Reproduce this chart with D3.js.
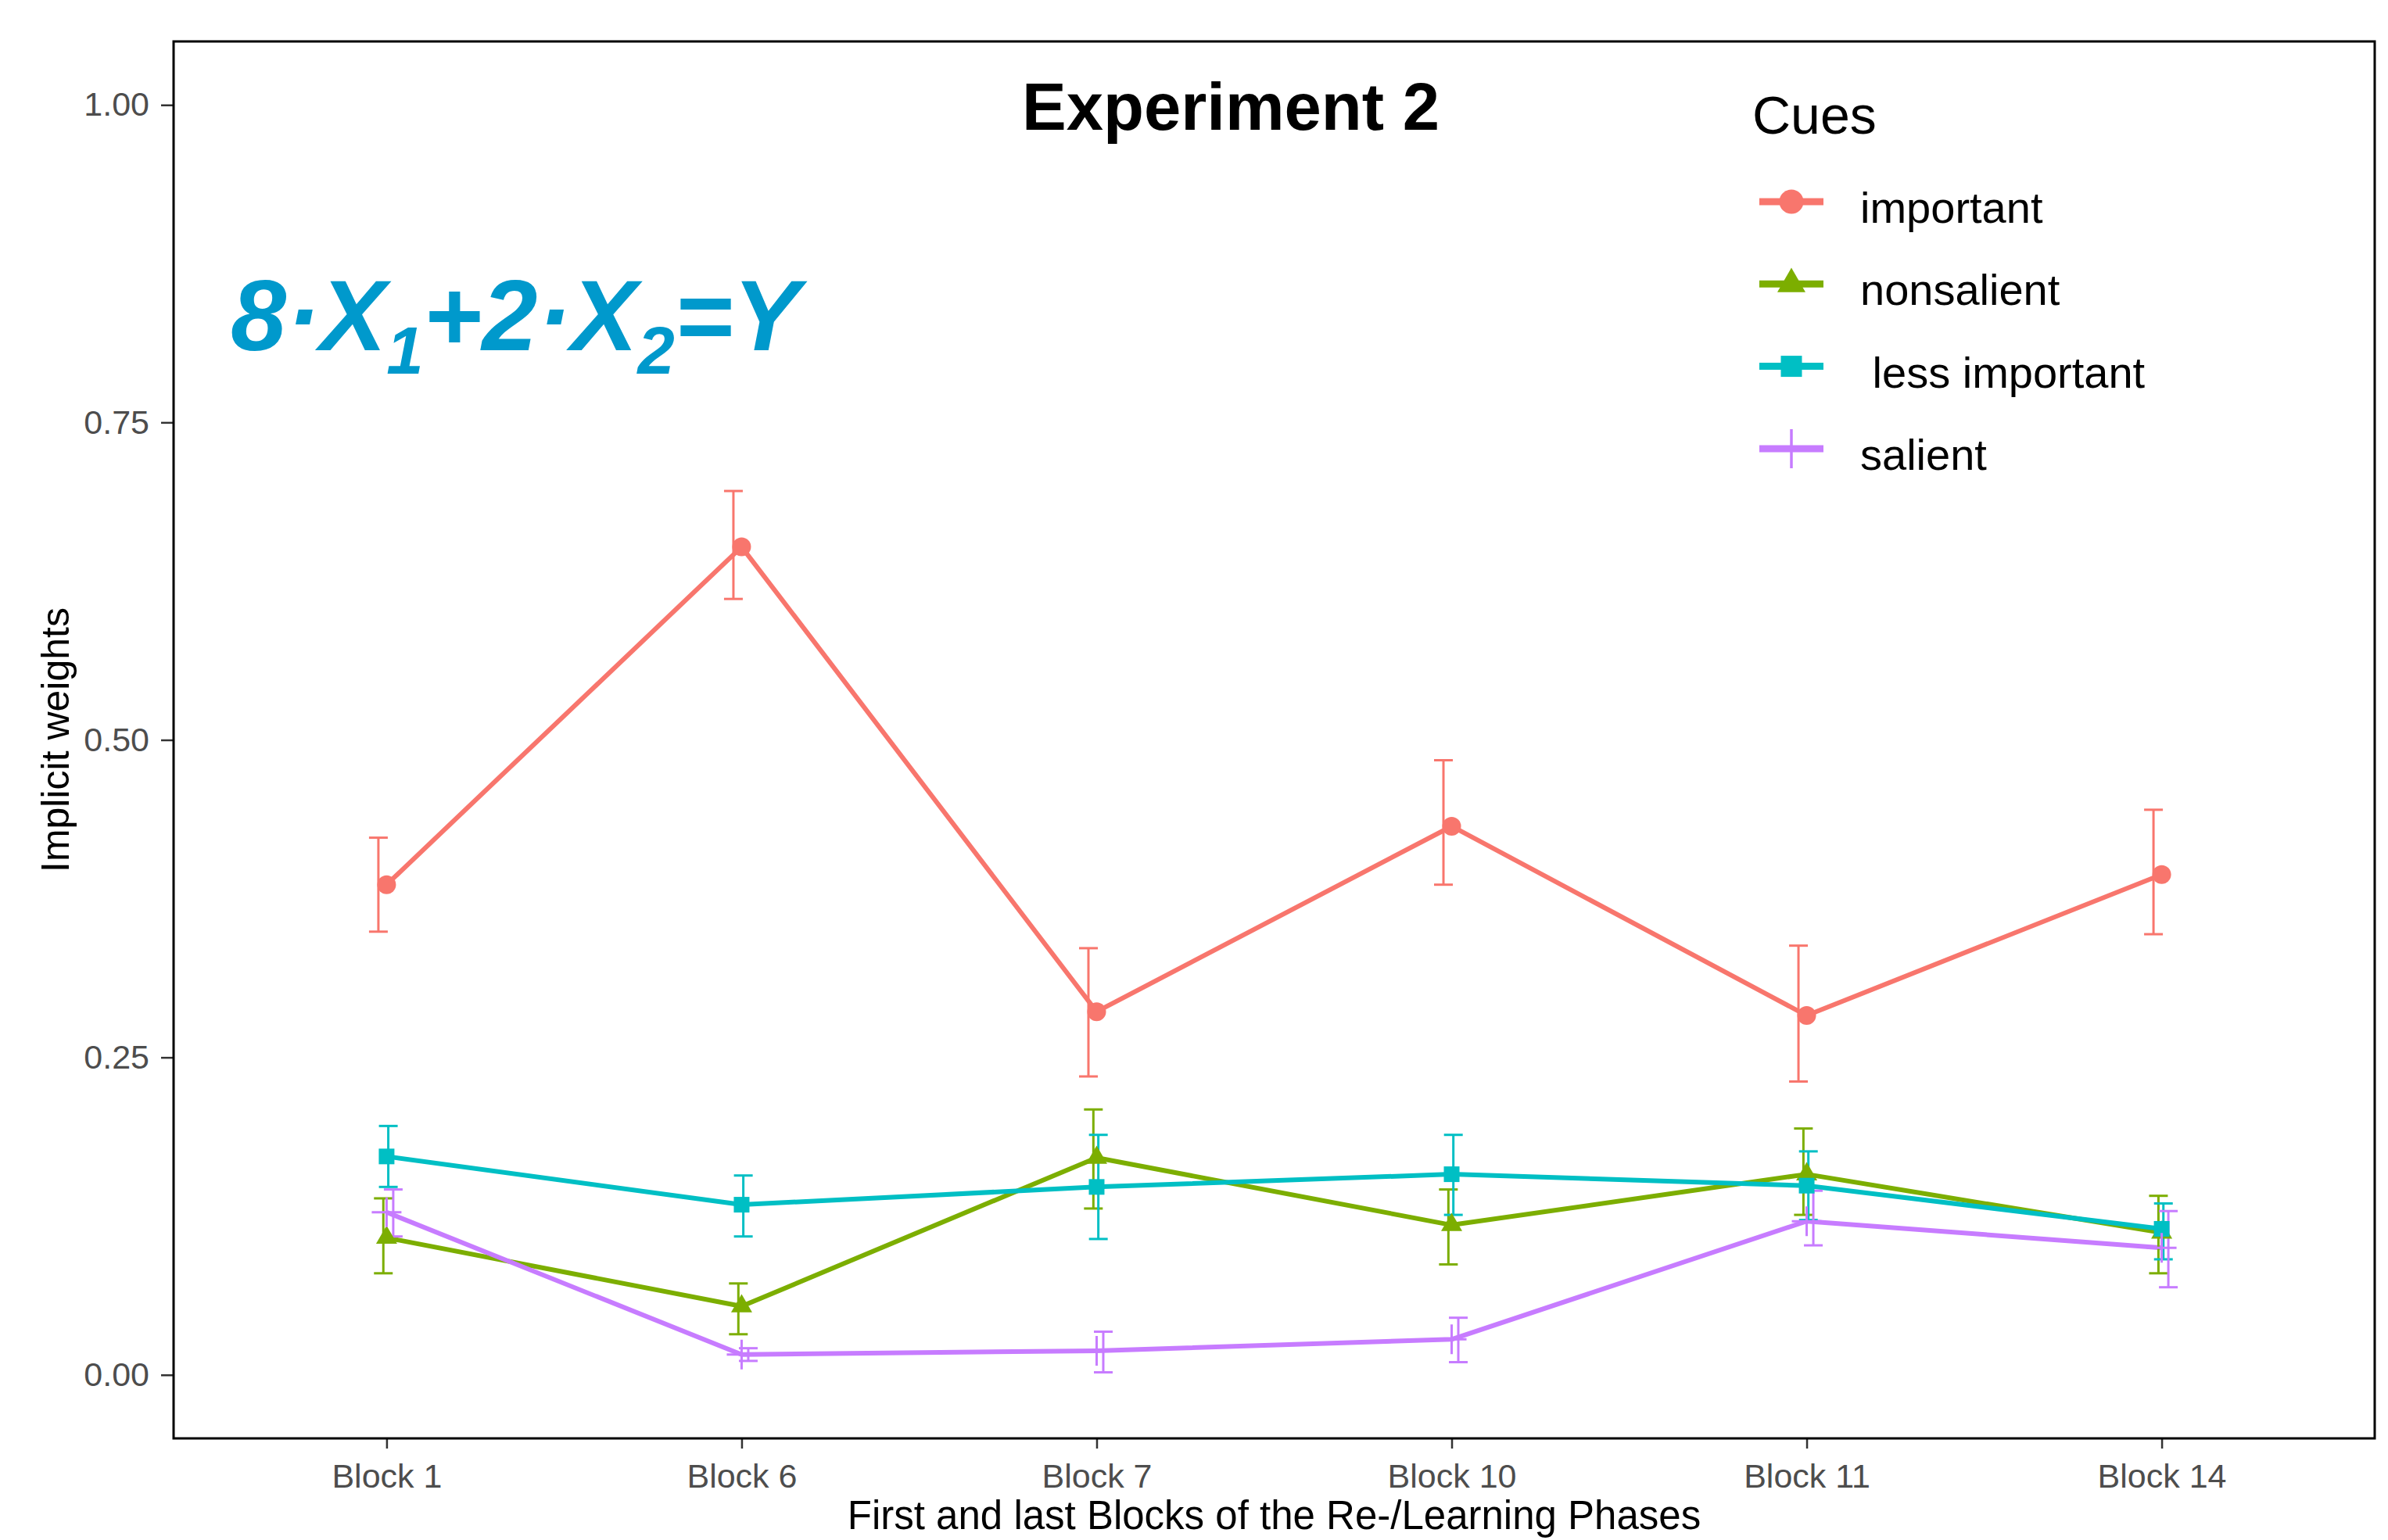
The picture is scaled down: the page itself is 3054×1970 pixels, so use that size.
<!DOCTYPE html>
<html>
<head>
<meta charset="utf-8">
<script src="https://cdn.jsdelivr.net/npm/d3@7"></script>
<style>
  body { margin: 0; background: #fff; }
  text { font-family: "Liberation Sans", Arial, sans-serif; }
</style>
</head>
<body>
<div id="chart"></div>
<script>
// categories
const blocks = ["Block 1", "Block 6", "Block 7", "Block 10", "Block 11", "Block 14"];
const cues = ["important", "nonsalient", " less important", "salient"];

// mean implicit weights per cue
const importantMean = [0.386, 0.652, 0.286, 0.432, 0.283, 0.394];
const nonsalientMean = [0.108, 0.054, 0.171, 0.118, 0.158, 0.112];
const lessImportantMean = [0.172, 0.134, 0.148, 0.158, 0.149, 0.115];
const salientMean = [0.128, 0.016, 0.019, 0.028, 0.121, 0.100];

// error bar lower / upper ends
const importantLow = [0.349, 0.611, 0.235, 0.386, 0.231, 0.347];
const importantHigh = [0.423, 0.696, 0.336, 0.484, 0.338, 0.445];
const nonsalientLow = [0.080, 0.032, 0.131, 0.087, 0.126, 0.080];
const nonsalientHigh = [0.139, 0.072, 0.209, 0.146, 0.194, 0.141];
const lessImportantLow = [0.148, 0.109, 0.107, 0.126, 0.122, 0.091];
const lessImportantHigh = [0.196, 0.157, 0.189, 0.189, 0.176, 0.135];
const salientLow = [0.109, 0.011, 0.002, 0.010, 0.102, 0.069];
const salientHigh = [0.146, 0.021, 0.034, 0.045, 0.145, 0.129];

// y axis ticks
const yTicks = [0, 0.25, 0.5, 0.75, 1];

const colors = ["#F8766D", "#7CAE00", "#00BFC4", "#C77CFF"];
const shapes = ["circle", "triangle", "square", "plus"];

const series = cues.map((c, k) => ({
    name: c,
    color: colors[k],
    shape: shapes[k],
    mean: [importantMean, nonsalientMean, lessImportantMean, salientMean][k],
    low: [importantLow, nonsalientLow, lessImportantLow, salientLow][k],
    high: [importantHigh, nonsalientHigh, lessImportantHigh, salientHigh][k]
}));

const W = 3054, H = 1970;
const panel = {left: 222, right: 3037, top: 53, bottom: 1840};

const svg = d3.select("#chart").append("svg")
    .attr("width", W)
    .attr("height", H);

svg.append("rect").attr("width", W).attr("height", H).attr("fill", "#fff");

const x = d3.scalePoint()
    .domain(blocks)
    .range([panel.left, panel.right])
    .padding(0.6);

const y = d3.scaleLinear()
    .domain([-0.05, 1.05])
    .range([panel.bottom, panel.top]);

// small dodge for the error bars
const dodge = d3.scalePoint()
    .domain(cues)
    .range([-10.5, 8.5]);

// marker path
function markerPath(shape, s) {
    if (shape === "plus") {
        return "M" + (-s / 2) + ",0H" + (s / 2) + "M0," + (-s / 2) + "V" + (s / 2);
    }
    let type = shape === "circle" ? d3.symbolCircle : shape === "triangle" ? d3.symbolTriangle : d3.symbolSquare;
    let area = shape === "circle" ? Math.PI * s * s / 4 : shape === "triangle" ? Math.sqrt(3) / 4 * s * s : s * s;
    return d3.symbol().type(type).size(area)();
}
const plotSize = {circle: 24, triangle: 27, square: 20, plus: 38};
const keySize = {circle: 31, triangle: 36, square: 27, plus: 50};

// axes
const yAxis = svg.append("g")
    .attr("transform", "translate(" + panel.left + ",0)")
    .call(d3.axisLeft(y).tickValues(yTicks).tickFormat(d3.format(".2f")).tickSize(16).tickPadding(15));
yAxis.select(".domain").remove();
yAxis.selectAll("line").attr("stroke", "#333").attr("stroke-width", 2.5);
yAxis.selectAll("text")
    .attr("fill", "#4d4d4d")
    .style("font-size", "43px")
    .style("font-family", "'Liberation Sans', Arial, sans-serif");

const xAxis = svg.append("g")
    .attr("transform", "translate(0," + panel.bottom + ")")
    .call(d3.axisBottom(x).tickSize(13).tickPadding(19));
xAxis.select(".domain").remove();
xAxis.selectAll("line").attr("stroke", "#333").attr("stroke-width", 2.5);
xAxis.selectAll("text")
    .attr("fill", "#4d4d4d")
    .style("font-size", "43px")
    .style("font-family", "'Liberation Sans', Arial, sans-serif");

const plot = svg.append("g");

// lines
const line = d3.line()
    .x((d, i) => x(blocks[i]))
    .y(d => y(d));

plot.selectAll(".cue-line")
    .data(series)
    .enter().append("path")
    .attr("class", "cue-line")
    .attr("d", s => line(s.mean))
    .attr("fill", "none")
    .attr("stroke", s => s.color)
    .attr("stroke-width", 6)
    .attr("stroke-linejoin", "round");

// error bars
const bars = plot.selectAll(".bars")
    .data(series)
    .enter().append("g")
    .attr("class", "bars")
    .attr("stroke", s => s.color)
    .attr("stroke-width", 3);

bars.each(function(s) {
    let g = d3.select(this);
    blocks.forEach((b, i) => {
        let bx = x(b) + dodge(s.name);
        g.append("line")
            .attr("x1", bx).attr("x2", bx)
            .attr("y1", y(s.low[i])).attr("y2", y(s.high[i]));
        [s.low[i], s.high[i]].forEach(v => {
            g.append("line")
                .attr("x1", bx - 12).attr("x2", bx + 12)
                .attr("y1", y(v)).attr("y2", y(v));
        });
    });
});

// points
series.forEach(s => {
    plot.selectAll(null)
        .data(s.mean)
        .enter().append("path")
        .attr("transform", (d, i) => "translate(" + x(blocks[i]) + "," + y(d) + ")")
        .attr("d", markerPath(s.shape, plotSize[s.shape]))
        .attr("fill", s.shape === "plus" ? "none" : s.color)
        .attr("stroke", s.shape === "plus" ? s.color : "none")
        .attr("stroke-width", 3);
});

// panel border
svg.append("rect")
    .attr("x", panel.left)
    .attr("y", panel.top)
    .attr("width", panel.right - panel.left)
    .attr("height", panel.bottom - panel.top)
    .attr("fill", "none")
    .attr("stroke", "#000")
    .attr("stroke-width", 3);

// title
svg.append("text")
    .attr("x", 1574)
    .attr("y", 166)
    .attr("text-anchor", "middle")
    .style("font-size", "85px")
    .style("font-weight", "bold")
    .text("Experiment 2");

// formula
const formula = svg.append("text")
    .attr("x", 295)
    .attr("y", 448)
    .attr("fill", "#0099cc")
    .style("font-size", "128px")
    .style("font-weight", "bold")
    .style("font-style", "italic");
formula.append("tspan").text("8·X");
formula.append("tspan").attr("dy", 30).style("font-size", "85px").text("1");
formula.append("tspan").attr("dy", -30).text("+2·X");
formula.append("tspan").attr("dy", 30).style("font-size", "85px").text("2");
formula.append("tspan").attr("dy", -30).text("=Y");

// axis titles
svg.append("text")
    .attr("transform", "translate(88," + ((panel.top + panel.bottom) / 2) + ") rotate(-90)")
    .attr("text-anchor", "middle")
    .style("font-size", "50px")
    .text("Implicit weights");

svg.append("text")
    .attr("x", (panel.left + panel.right) / 2)
    .attr("y", 1956)
    .attr("text-anchor", "middle")
    .style("font-size", "51px")
    .text("First and last Blocks of the Re-/Learning Phases");

// legend
const legend = svg.append("g");
legend.append("text")
    .attr("x", 2241)
    .attr("y", 171)
    .style("font-size", "68px")
    .text("Cues");

const keys = legend.selectAll(".key")
    .data(series)
    .enter().append("g")
    .attr("class", "key")
    .attr("transform", (s, k) => "translate(2291," + (258 + k * 105.3) + ")");

keys.append("line")
    .attr("x1", -41).attr("x2", 41)
    .attr("stroke", s => s.color)
    .attr("stroke-width", 9);

keys.append("path")
    .attr("d", s => markerPath(s.shape, keySize[s.shape]))
    .attr("fill", s => s.shape === "plus" ? "none" : s.color)
    .attr("stroke", s => s.shape === "plus" ? s.color : "none")
    .attr("stroke-width", 3.5);

keys.append("text")
    .attr("x", 88)
    .attr("y", 27)
    .style("font-size", "56px")
    .style("white-space", "pre")
    .text(s => s.name);
</script>
</body>
</html>
